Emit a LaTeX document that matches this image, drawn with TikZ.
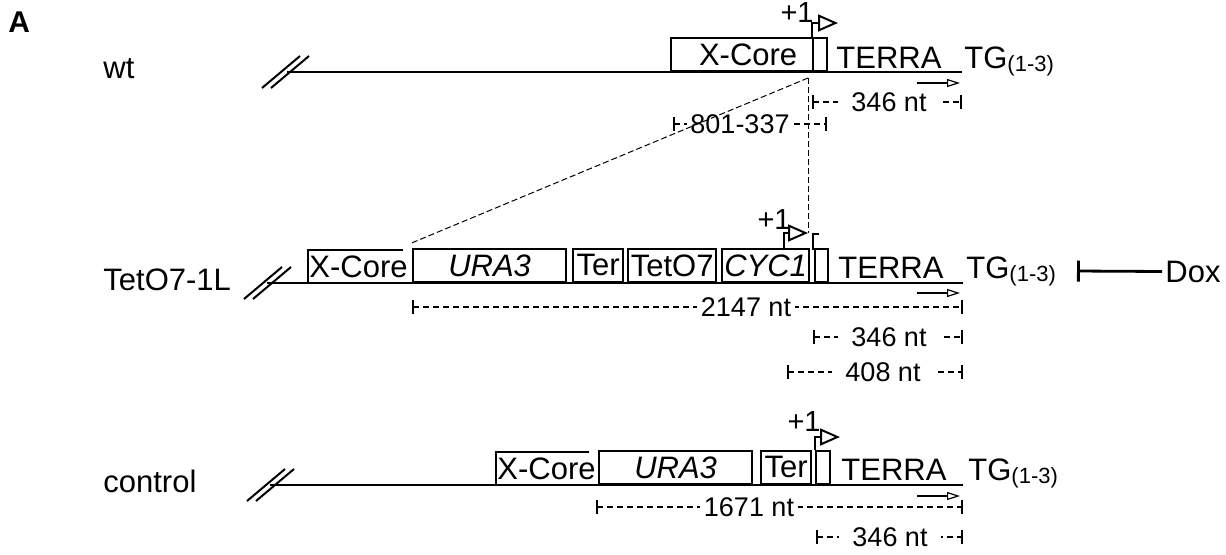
\documentclass[tikz,border=0pt]{standalone}
\usepackage{fontspec}
\setmainfont{Liberation Sans}
\usetikzlibrary{arrows.meta}

\tikzset{
  dna/.style={line width=1.4pt},
  seg/.style={draw, line width=1.1pt, inner sep=0pt, minimum height=16.5pt, anchor=south west, font=\fontsize{15.5}{18}\selectfont},
  lbl/.style={inner sep=0pt, font=\fontsize{15.5}{18}\selectfont},
  plus/.style={inner sep=0pt, anchor=base east, font=\fontsize{14.5}{16}\selectfont},
  tss/.style={line width=1pt, -{Triangle[open, length=10pt, width=8.5pt, fill=white]}},
  rna/.style={line width=0.6pt, -{Triangle[open, length=6.5pt, width=4pt]}},
  dimline/.style={line width=0.7pt, dash pattern=on 3pt off 2pt, {Bar[width=7pt, line width=0.9pt]}-{Bar[width=7pt, line width=0.9pt]}},
  dimlbl/.style={fill=white, inner ysep=1pt, inner xsep=#1, font=\fontsize{13.5}{16}\selectfont},
  dimlbl/.default=2pt,
  slash/.style={line width=1pt},
  guide/.style={line width=0.5pt, dash pattern=on 3pt off 1.5pt},
}

\newcommand{\tgsub}{TG\raisebox{-1.5pt}{\fontsize{11}{12}\selectfont(1-3)}}

\begin{document}
\begin{tikzpicture}[x=0.5pt,y=-0.5pt]
\useasboundingbox (0,0) rectangle (1226,554);

\node[inner sep=0pt, anchor=base west, font=\bfseries\fontsize{15}{18}\selectfont] (panel) at (8,32) {A};

% break marks on the three lines
\foreach \sx/\sy in {281/72, 263/283, 266/485} {
  \draw[slash] (\sx-19,\sy+16) -- (\sx+19,\sy-16);
  \draw[slash] (\sx-10,\sy+16) -- (\sx+28,\sy-16);
}

% wt
\node[lbl, anchor=base west] (wt) at (103,78) {wt};
\draw[dna] (287,72) -- (962,72);
\node[seg, minimum width=71pt] (xcore1) at (670,72) {\hspace*{6pt}X-Core};
\node[seg, minimum width=7pt] (tsr1) at (812,72) {};
\draw[tss] (tsr1.north west) |- (838,23) coordinate (tip1);
\node[plus] (plus1) at (814,22) {+1};
\node[lbl, anchor=base west] (terra1) at (836,68) {TERRA};
\node[lbl, anchor=base west] (tg1) at (964,68) {\tgsub};
\draw[rna] (917,83) -- (960,83);
\draw[dimline] (812,102) -- (962,102);
\node[dimlbl=6.5pt] (len1) at (889,102) {346 nt};
\draw[dimline] (673,124) -- (827,124);
\node[dimlbl=1.5pt] (len2) at (740,124) {801-337};

% TetO7-1L
\node[lbl, anchor=base west] (teto) at (103,290) {TetO7-1L};
\draw[dna] (267,283) -- (963,283);
\draw[line width=1.1pt] (308,283) |- (403,250);
\node[lbl] (xcore2) at (358.5,267) {X-Core};
\node[seg, minimum width=76.5pt] (ura2) at (412,283) {\itshape URA3};
\node[seg, minimum width=25pt] (ter2) at (572,283) {Ter};
\node[seg, minimum width=44pt] (teto2) at (627,283) {TetO7};
\node[seg, minimum width=43.5pt] (cyc2) at (721,283) {\itshape CYC1};
\node[seg, minimum width=6.5pt] (tsr2) at (814,283) {};
\draw[tss] (784,250) |- (808,233) coordinate (tip2);
\draw[line width=1pt] (813,250) |- (819,234);
\node[plus] (plus2) at (791,229) {+1};
\node[lbl, anchor=base west] (terra2) at (838,278) {TERRA};
\node[lbl, anchor=base west] (tg2) at (966,278) {\tgsub};
\draw[rna] (917,293) -- (960,293);
\draw[dimline] (412,307) -- (963,307);
\node[dimlbl] (len3) at (746,307) {2147 nt};
\draw[dimline] (813,337) -- (963,337);
\node[dimlbl=6.5pt] (len4) at (889,337) {346 nt};
\draw[dimline] (787,372) -- (963,372);
\node[dimlbl=6.5pt] (len5) at (883,372) {408 nt};

% Dox
\node[lbl, anchor=base west] (dox) at (1165,282) {Dox};
\coordinate (doxbar) at (1077,271);
\draw[line width=1.4pt, -{Bar[width=10.5pt]}] ([xshift=-1.5pt]dox.west) -- (doxbar);

% guides from wt to TetO7-1L
\coordinate (junc) at (808,78);
\draw[guide] (junc) -- (tip2);
\draw[guide] (junc) -- ([yshift=2.5pt]ura2.north west);

% control
\node[lbl, anchor=base west] (ctrl) at (103,492) {control};
\draw[dna] (270,485) -- (963,485);
\draw[line width=1.1pt] (496,485) |- (589,452);
\node[lbl] (xcore3) at (546.5,469) {X-Core};
\node[seg, minimum width=76.5pt] (ura3) at (598,485) {\itshape URA3};
\node[seg, minimum width=25pt] (ter3) at (760,485) {Ter};
\node[seg, minimum width=7pt] (tsr3) at (815,485) {};
\draw[tss] (tsr3.north west) |- (840,437) coordinate (tip3);
\node[plus] (plus3) at (821,431) {+1};
\node[lbl, anchor=base west] (terra3) at (841,480) {TERRA};
\node[lbl, anchor=base west] (tg3) at (968,480) {\tgsub};
\draw[rna] (917,496) -- (960,496);
\draw[dimline] (596,507) -- (963,507);
\node[dimlbl] (len6) at (749,507) {1671 nt};
\draw[dimline] (816,537) -- (963,537);
\node[dimlbl=6.5pt] (len7) at (890,537) {346 nt};
\end{tikzpicture}
\end{document}
